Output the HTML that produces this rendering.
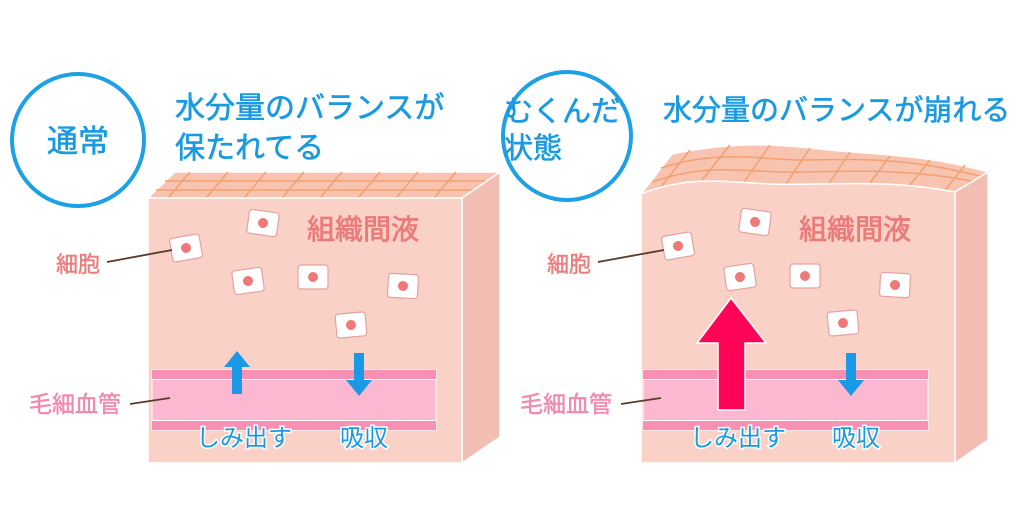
<!DOCTYPE html>
<html><head><meta charset="utf-8"><style>
html,body{margin:0;padding:0;background:#fff;}
svg{display:block;}
text{font-family:"Liberation Sans","Noto Sans CJK JP",sans-serif;}
.h{stroke:#1a9ae0;stroke-width:0.6;}
</style></head><body>
<svg width="1024" height="520" viewBox="0 0 1024 520" xmlns="http://www.w3.org/2000/svg">
<defs>
<g id="cell"><rect x="-15" y="-12" width="30" height="24" rx="3" fill="#fff" stroke="#e8a0a0" stroke-width="1.2"/><circle r="5" fill="#f07878"/></g>
</defs>
<rect width="1024" height="520" fill="#fff"/>

<!-- LEFT -->
<circle cx="78" cy="140" r="66" fill="none" stroke="#1ea0e6" stroke-width="4"/>
<text class="h" x="78" y="152" font-size="31" fill="#1a9ae0" text-anchor="middle">通常</text>
<text class="h" x="175" y="118" font-size="30" fill="#1a9ae0">水分量のバランスが</text>
<text class="h" x="175" y="158" font-size="30" fill="#1a9ae0">保たれてる</text>

<polygon points="148,198 175,172 500,172 462,198" fill="#f8c4b0" stroke="#fff" stroke-width="1.5"/>
<g stroke="#f3a070" stroke-width="1.5" fill="none">
<line x1="165" y1="181" x2="490" y2="181"/><line x1="156" y1="190" x2="478" y2="190"/>
<line x1="190" y1="172" x2="168" y2="198"/><line x1="228" y1="172" x2="206" y2="198"/>
<line x1="266" y1="172" x2="244" y2="198"/><line x1="304" y1="172" x2="282" y2="198"/>
<line x1="342" y1="172" x2="320" y2="198"/><line x1="380" y1="172" x2="358" y2="198"/>
<line x1="418" y1="172" x2="396" y2="198"/><line x1="456" y1="172" x2="434" y2="198"/>
</g>
<polygon points="462,198 500,172 500,437 462,463" fill="#f2bdb2" stroke="#fff" stroke-width="1.5"/>
<rect x="148" y="198" width="314" height="265" fill="#fad1c7" stroke="#fff" stroke-width="1.5"/>
<text x="307" y="239" font-size="28" fill="#eb7a7a" stroke="#eb7a7a" stroke-width="0.7">組織間液</text>
<use href="#cell" transform="translate(186,248) rotate(-10)"/>
<use href="#cell" transform="translate(263,223) rotate(8)"/>
<use href="#cell" transform="translate(248,281) rotate(-8)"/>
<use href="#cell" transform="translate(313,277)"/>
<use href="#cell" transform="translate(403,286) rotate(3)"/>
<use href="#cell" transform="translate(351,325) rotate(-5)"/>
<rect x="152" y="370" width="284" height="60" fill="#fcb8d0" stroke="#fff" stroke-width="1"/>
<rect x="152" y="370" width="284" height="9" fill="#f790b2"/>
<rect x="152" y="421" width="284" height="9" fill="#f790b2"/>
<line x1="152" y1="379.5" x2="436" y2="379.5" stroke="#fff" stroke-width="1"/>
<line x1="152" y1="420.5" x2="436" y2="420.5" stroke="#fff" stroke-width="1"/>
<polygon points="237,351 250,367 242,367 242,394 232,394 232,367 224,367" fill="#1a9ae6"/>
<polygon points="359,396 372,380 364,380 364,353 354,353 354,380 346,380" fill="#1a9ae6"/>
<text x="196" y="446" font-size="24" fill="#1a9ae0" stroke="#fff" stroke-width="3" paint-order="stroke">しみ出す</text>
<text x="340" y="446" font-size="24" fill="#1a9ae0" stroke="#fff" stroke-width="3" paint-order="stroke">吸収</text>
<text x="56" y="272" font-size="22" fill="#ec7e7e" stroke="#ec7e7e" stroke-width="0.5">細胞</text>
<line x1="107" y1="262" x2="172" y2="250" stroke="#5a3a2a" stroke-width="1.8"/>
<text x="29" y="412" font-size="23" fill="#f28ab0" stroke="#f28ab0" stroke-width="0.5">毛細血管</text>
<line x1="130" y1="404" x2="170" y2="398" stroke="#5a3a2a" stroke-width="1.8"/>

<!-- RIGHT -->
<circle cx="567" cy="136" r="64" fill="none" stroke="#1ea0e6" stroke-width="4"/>
<text class="h" x="504" y="121" font-size="29" fill="#1a9ae0">むくんだ</text>
<text class="h" x="504" y="158" font-size="29" fill="#1a9ae0">状態</text>
<text class="h" x="663" y="120" font-size="29" fill="#1a9ae0">水分量のバランスが崩れる</text>

<path d="M641,194 C690,175 720,182 770,184 C830,186 880,178 955,192 L988,172 C930,155 880,155 830,150 C780,145 740,140 672,154 Z" fill="#f8c4b0" stroke="#fff" stroke-width="1.5"/>
<g stroke="#f3a070" stroke-width="1.5" fill="none">
<path d="M652,182 C700,165 730,170 780,172 C840,173 890,166 972,181"/>
<path d="M661,168 C710,152 745,157 795,160 C850,160 895,155 980,176"/>
<line x1="690" y1="150" x2="660" y2="188"/><line x1="730" y1="145" x2="702" y2="180"/>
<line x1="770" y1="145" x2="744" y2="182"/><line x1="810" y1="148" x2="786" y2="184"/>
<line x1="850" y1="152" x2="828" y2="185"/><line x1="890" y1="156" x2="870" y2="183"/>
<line x1="930" y1="160" x2="910" y2="185"/><line x1="965" y1="165" x2="945" y2="190"/>
</g>
<polygon points="955,192 988,172 988,440 955,463" fill="#f2bdb2" stroke="#fff" stroke-width="1.5"/>
<path d="M641,194 C690,175 720,182 770,184 C830,186 880,178 955,192 L955,463 L641,463 Z" fill="#fad1c7" stroke="#fff" stroke-width="1.5"/>
<text x="799" y="239" font-size="28" fill="#eb7a7a" stroke="#eb7a7a" stroke-width="0.7">組織間液</text>
<use href="#cell" transform="translate(678,246) rotate(-10)"/>
<use href="#cell" transform="translate(755,222) rotate(8)"/>
<use href="#cell" transform="translate(740,277) rotate(-8)"/>
<use href="#cell" transform="translate(805,276)"/>
<use href="#cell" transform="translate(895,285) rotate(3)"/>
<use href="#cell" transform="translate(843,323) rotate(-5)"/>
<rect x="643" y="370" width="285" height="60" fill="#fcb8d0" stroke="#fff" stroke-width="1"/>
<rect x="643" y="370" width="285" height="9" fill="#f790b2"/>
<rect x="643" y="421" width="285" height="9" fill="#f790b2"/>
<line x1="643" y1="379.5" x2="928" y2="379.5" stroke="#fff" stroke-width="1"/>
<line x1="643" y1="420.5" x2="928" y2="420.5" stroke="#fff" stroke-width="1"/>
<polygon points="731,298 766,343 745,343 745,410 718,410 718,343 697,343" fill="#ff0558" stroke="#fff" stroke-width="1.5"/>
<polygon points="851,396 864,380 856,380 856,353 846,353 846,380 838,380" fill="#1a9ae6"/>
<text x="690" y="446" font-size="24" fill="#1a9ae0" stroke="#fff" stroke-width="3" paint-order="stroke">しみ出す</text>
<text x="832" y="446" font-size="24" fill="#1a9ae0" stroke="#fff" stroke-width="3" paint-order="stroke">吸収</text>
<text x="547" y="272" font-size="22" fill="#ec7e7e" stroke="#ec7e7e" stroke-width="0.5">細胞</text>
<line x1="598" y1="262" x2="664" y2="250" stroke="#5a3a2a" stroke-width="1.8"/>
<text x="520" y="412" font-size="23" fill="#f28ab0" stroke="#f28ab0" stroke-width="0.5">毛細血管</text>
<line x1="621" y1="404" x2="661" y2="398" stroke="#5a3a2a" stroke-width="1.8"/>
</svg>
</body></html>
